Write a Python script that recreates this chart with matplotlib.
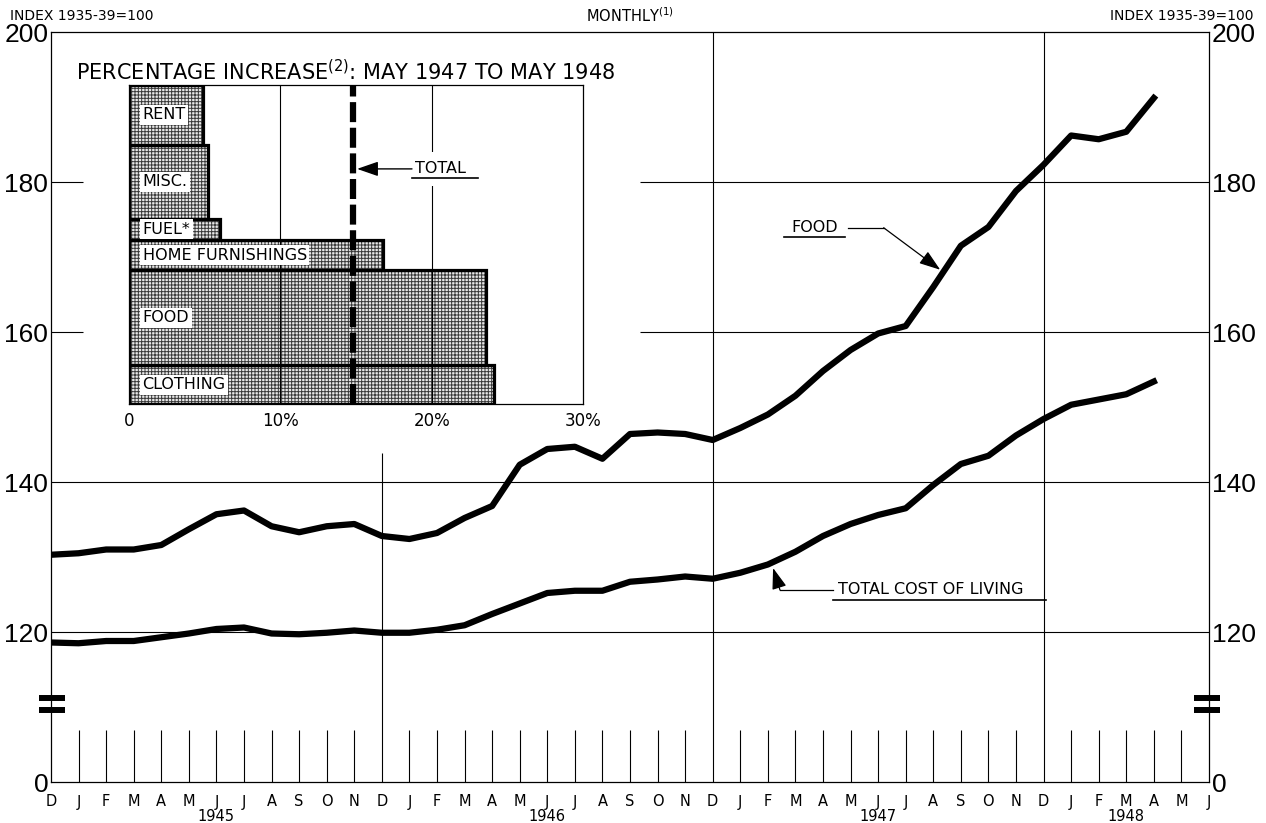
import matplotlib.pyplot as plt

plt.rcParams['font.family'] = ['DejaVu Sans']
plt.rcParams['mathtext.default'] = 'regular'
plt.rcParams['hatch.linewidth'] = 0.7

# monthly axis: Dec 1944 .. Jun 1948
month_labels = ['D', 'J', 'F', 'M', 'A', 'M', 'J', 'J', 'A', 'S', 'O', 'N'] * 3 + \
               ['D', 'J', 'F', 'M', 'A', 'M', 'J']
year_labels = ['1945', '1946', '1947', '1948']
year_pos = [6, 18, 30, 39]

# index values (1935-39=100), Dec 1944 .. Apr 1948
food = [130.3, 130.5, 131.0, 131.0, 131.6, 133.7, 135.7, 136.2, 134.1, 133.3, 134.1, 134.4,
        132.8, 132.4, 133.2, 135.2, 136.8, 142.3, 144.4, 144.7, 143.1, 146.4, 146.6, 146.4,
        145.6, 147.2, 149.0, 151.5, 154.8, 157.6, 159.8, 160.8, 166.0, 171.5, 174.0, 178.8,
        182.3, 186.2, 185.7, 186.7, 191.2]
total = [118.6, 118.5, 118.8, 118.8, 119.3, 119.8, 120.4, 120.6, 119.8, 119.7, 119.9, 120.2,
         119.9, 119.9, 120.3, 120.9, 122.4, 123.8, 125.2, 125.5, 125.5, 126.7, 127.0, 127.4,
         127.1, 127.9, 129.0, 130.7, 132.8, 134.4, 135.6, 136.5, 139.6, 142.4, 143.5, 146.2,
         148.4, 150.3, 151.0, 151.7, 153.4]

# inset: percentage increase May 1947 to May 1948
categories = ['RENT', 'MISC.', 'FUEL*', 'HOME FURNISHINGS', 'FOOD', 'CLOTHING']
pct_increase = [4.9, 5.2, 6.0, 16.8, 23.6, 24.1]
weights = [18.7, 23.2, 6.7, 9.5, 29.8, 12.1]
total_increase = 14.8

W, H = 1266, 823
fig = plt.figure(figsize=(W / 100, H / 100), dpi=100)


def fx(px):
    return px / W


def fy(py):
    return 1 - py / H


L, R, T, B = 51, 1209, 32, 782
ax = fig.add_axes([fx(L), fy(B), (R - L) / W, (B - T) / H])
ax.set_xlim(0, 42)
ax.set_ylim(100, 200)   # bottom of the broken axis stands for 0

for s in ax.spines.values():
    s.set_linewidth(0.9)

# grid
gl = dict(color='black', lw=0.8, zorder=1)
ax.hlines([120, 140], 0, 42, **gl)
ax.hlines([160, 180], 21.36, 42, **gl)
ax.hlines([160, 180], 0, 1.15, **gl)
ax.vlines([24, 36], 100, 200, **gl)
ax.vlines(12, 100, 143.9, **gl)
ax.vlines([i for i in range(1, 42) if i % 12 != 0], 100, 106.9, **gl)

# series
xs = list(range(len(food)))
ax.plot(xs, food, color='black', lw=4.5, solid_joinstyle='round', zorder=5)
ax.plot(xs, total, color='black', lw=4.5, solid_joinstyle='round', zorder=5)

# axis break marks
for bx in ([-0.435, 0.51], [41.46, 42.4]):
    for by in (111.2, 109.6):
        ax.plot(bx, [by, by], color='black', lw=4.3, solid_capstyle='butt',
                clip_on=False, zorder=6)

# ticks
ax.set_xticks(range(len(month_labels)))
ax.set_xticklabels(month_labels, fontsize=10.5)
ax.tick_params(axis='x', length=0, pad=9)
for yl, pos in zip(year_labels, year_pos):
    ax.text(pos, -0.046, yl, transform=ax.get_xaxis_transform(), ha='center',
            va='center', fontsize=10.5)

yticks = [100, 120, 140, 160, 180, 200]
ax.set_yticks(yticks)
ax.set_yticklabels(['0', '120', '140', '160', '180', '200'])
ax.tick_params(axis='y', length=0, pad=2, labelsize=19, labelright=True)
for lbl in ax.get_yticklabels():
    lbl.set_fontfamily(['Liberation Sans', 'DejaVu Sans'])

# annotations
arrow = dict(arrowstyle='-|>,head_length=1.3,head_width=0.45', lw=0.9, color='black',
             shrinkA=0, shrinkB=0)
ax.text(26.84, 173.9, 'FOOD', fontsize=11.5, va='center', ha='left')
ax.plot([26.6, 28.8], [172.7, 172.7], color='black', lw=1.2)
ax.plot([28.9, 30.2], [173.9, 173.9], color='black', lw=0.9)
ax.annotate('', xy=(32.25, 168.3), xytext=(30.2, 173.9), arrowprops=arrow, zorder=6)

ax.text(28.55, 125.6, 'TOTAL COST OF LIVING', fontsize=11.5, va='center', ha='left',
        bbox=dict(boxstyle='square,pad=0.5', fc='white', ec='none'), zorder=3)
ax.plot([28.36, 36.1], [124.27, 124.27], color='black', lw=1.2, zorder=4)
ax.plot([28.36, 26.44], [125.6, 125.6], color='black', lw=0.9, zorder=4)
ax.annotate('', xy=(26.19, 128.53), xytext=(26.44, 125.6), arrowprops=arrow, zorder=6)

# header texts
fig.text(fx(10), fy(16), 'INDEX 1935-39=100', fontsize=10, ha='left', va='center')
fig.text(fx(630), fy(16), 'MONTHLY$^{(1)}$', fontsize=10.5, ha='center', va='center')
fig.text(fx(1254), fy(16), 'INDEX 1935-39=100', fontsize=10, ha='right', va='center')

# inset bar chart
axi = fig.add_axes([fx(129), fy(404), (583 - 129) / W, (404 - 85) / H])
axi.set_facecolor('white')
axi.set_xlim(0, 30)
axi.set_ylim(100, 0)
starts = [sum(weights[:k]) for k in range(len(weights))]
axi.barh(starts, pct_increase, height=weights, align='edge', color='#e8e8e8',
         edgecolor='#3a3a3a', hatch='+++++', lw=0, zorder=1)
axi.vlines([10, 20], 0, 100, color='black', lw=0.8, zorder=2)
axi.barh(starts, pct_increase, height=weights, align='edge', fill=False,
         edgecolor='black', lw=2.3, zorder=3)
axi.axvline(total_increase, color='black', lw=4.5, ls=(0, (3.2, 0.9)), zorder=4)
for s0, w, c in zip(starts, weights, categories):
    axi.text(0.9, s0 + w / 2, c, fontsize=11.5, ha='left', va='center', zorder=5,
             bbox=dict(boxstyle='square,pad=0.15', fc='white', ec='none'))

axi.annotate('', xy=(15.07, 26.3), xytext=(18.7, 26.3), zorder=6,
             arrowprops=dict(arrowstyle='-|>,head_length=1.3,head_width=0.45', lw=1,
                             color='black', shrinkA=0, shrinkB=0))
axi.text(18.9, 26.3, 'TOTAL', fontsize=11.5, ha='left', va='center', zorder=5,
         bbox=dict(boxstyle='square,pad=0.6', fc='white', ec='none'))
axi.plot([18.7, 23.07], [29.2, 29.2], color='black', lw=1.2, zorder=6)

axi.set_xticks([0, 10, 20, 30])
axi.set_xticklabels(['0', '10%', '20%', '30%'])
axi.set_yticks([])
axi.tick_params(axis='x', length=0, pad=6, labelsize=12)
for s in axi.spines.values():
    s.set_linewidth(0.9)

fig.text(fx(346), fy(72), 'PERCENTAGE INCREASE$^{(2)}$: MAY 1947 TO MAY 1948',
         fontsize=15, ha='center', va='center')

fig.savefig('out.png', dpi=100)
